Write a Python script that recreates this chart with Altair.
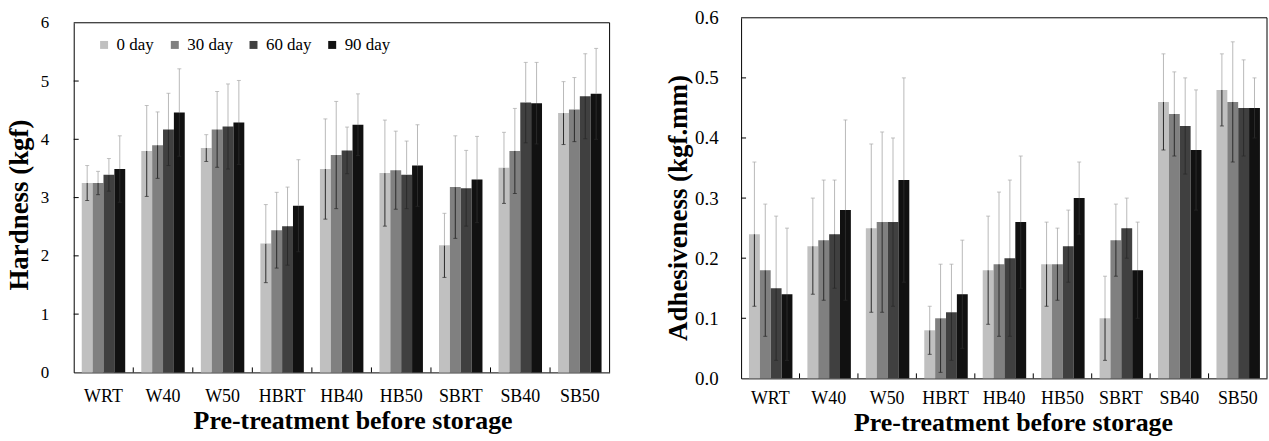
import altair as alt
import pandas as pd

categories = ["WRT", "W40", "W50", "HBRT", "HB40", "HB50", "SBRT", "SB40", "SB50"]
days = ["0 day", "30 day", "60 day", "90 day"]
colors = ["#c0c0c0", "#808080", "#404040", "#111111"]

hard_0 = [3.25, 3.80, 3.85, 2.21, 3.49, 3.42, 2.18, 3.51, 4.45]
hard_30 = [3.25, 3.90, 4.17, 2.44, 3.73, 3.47, 3.18, 3.80, 4.51]
hard_60 = [3.39, 4.17, 4.22, 2.51, 3.81, 3.39, 3.16, 4.63, 4.74]
hard_90 = [3.49, 4.46, 4.29, 2.86, 4.25, 3.55, 3.31, 4.62, 4.78]
hard_sd_0 = [0.30, 0.78, 0.23, 0.67, 0.86, 0.91, 0.55, 0.61, 0.54]
hard_sd_30 = [0.20, 0.57, 0.65, 0.65, 0.92, 0.67, 0.88, 0.73, 0.55]
hard_sd_60 = [0.28, 0.62, 0.73, 0.67, 0.40, 0.58, 0.65, 0.69, 0.73]
hard_sd_90 = [0.57, 0.75, 0.72, 0.79, 0.53, 0.70, 0.74, 0.70, 0.78]

adh_0 = [0.24, 0.22, 0.25, 0.08, 0.18, 0.19, 0.10, 0.46, 0.48]
adh_30 = [0.18, 0.23, 0.26, 0.10, 0.19, 0.19, 0.23, 0.44, 0.46]
adh_60 = [0.15, 0.24, 0.26, 0.11, 0.20, 0.22, 0.25, 0.42, 0.45]
adh_90 = [0.14, 0.28, 0.33, 0.14, 0.26, 0.30, 0.18, 0.38, 0.45]
adh_sd_0 = [0.12, 0.08, 0.14, 0.04, 0.09, 0.07, 0.07, 0.08, 0.06]
adh_sd_30 = [0.11, 0.10, 0.15, 0.09, 0.12, 0.06, 0.06, 0.07, 0.10]
adh_sd_60 = [0.12, 0.09, 0.14, 0.08, 0.13, 0.06, 0.05, 0.08, 0.08]
adh_sd_90 = [0.11, 0.15, 0.17, 0.09, 0.11, 0.06, 0.08, 0.10, 0.05]

hard_ticks = [0, 1, 2, 3, 4, 5, 6]
adh_ticks = [0.0, 0.1, 0.2, 0.3, 0.4, 0.5, 0.6]

FONT = "Liberation Serif"
P_IN = 0.27
P_OUT = 0.135


def panel(vals, sds, ticks, fmt, ytitle, w, h, top_gap, ylab_size, leg_x, leg_y,
          ylab_pad, ytitle_x, ytitle_y, xlab_pad, xtitle_x, xtitle_y):
    rows = []
    for d, v, s in zip(days, vals, sds):
        for c, vi, si in zip(categories, v, s):
            rows.append(dict(cat=c, day=d, val=vi, lo=vi - si, hi=vi + si))
    df = pd.DataFrame(rows)

    xaxis = alt.Axis(title="Pre-treatment before storage", labelAngle=0, ticks=False,
                     labelFontSize=18, titleFontSize=26, titleFontWeight="bold",
                     labelPadding=xlab_pad, titleX=xtitle_x, titleY=xtitle_y,
                     titleBaseline="alphabetic", domainColor="black")
    yaxis = alt.Axis(title=ytitle, values=ticks, format=fmt, ticks=False, grid=False,
                     labelFontSize=ylab_size, titleFontSize=27, titleFontWeight="bold",
                     labelPadding=ylab_pad, titleX=ytitle_x, titleY=ytitle_y,
                     titleBaseline="alphabetic", titleAngle=270, domainColor="black")
    xs = alt.Scale(paddingInner=P_IN, paddingOuter=P_OUT)
    yscale = alt.Scale(domain=[ticks[0], ticks[-1]], nice=False, range=[h, top_gap])
    x = alt.X("cat:N", sort=categories, scale=xs, axis=xaxis)
    xo = alt.XOffset("day:N", sort=days, scale=alt.Scale(paddingInner=0, paddingOuter=0))

    base = alt.Chart(df)
    bars = base.mark_bar().encode(
        x=x, xOffset=xo,
        y=alt.Y("val:Q", scale=yscale, axis=yaxis),
        color=alt.Color("day:N", sort=days,
                        scale=alt.Scale(domain=days, range=colors),
                        legend=alt.Legend(orient="none", legendX=leg_x, legendY=leg_y,
                                          direction="horizontal", title=None,
                                          symbolType="square", symbolSize=64,
                                          symbolStrokeWidth=0, labelFont=FONT,
                                          labelFontSize=17, labelColor="black",
                                          labelOffset=4, columnPadding=12)),
    )
    up = base.mark_rule(color="#b8b8b8", strokeWidth=1).encode(
        x=x, xOffset=xo, y=alt.Y("val:Q", scale=yscale, axis=yaxis), y2="hi:Q")
    down = base.mark_rule(color="#2a2a2a", strokeWidth=1).encode(
        x=x, xOffset=xo, y=alt.Y("lo:Q", scale=yscale, axis=yaxis), y2="val:Q")
    cap_hi = base.mark_tick(color="#a8a8a8", size=4, thickness=1).encode(
        x=x, xOffset=xo, y=alt.Y("hi:Q", scale=yscale, axis=yaxis))
    cap_lo = base.mark_tick(color="#2a2a2a", size=4, thickness=1).encode(
        x=x, xOffset=xo, y=alt.Y("lo:Q", scale=yscale, axis=yaxis))
    yt = alt.Chart(pd.DataFrame({"t": ticks[1:-1]})).mark_rule(color="black").encode(
        y=alt.Y("t:Q", scale=yscale, axis=yaxis), x=alt.value(0), x2=alt.value(5))

    # plot frame (top and right edges) drawn on the value scale
    frame_df = pd.DataFrame({"a": [ticks[0]], "b": [ticks[-1]]})
    top_edge = alt.Chart(frame_df).mark_rule(color="black").encode(
        y=alt.Y("b:Q", scale=yscale, axis=yaxis), x=alt.value(0), x2=alt.value(w))
    right_edge = alt.Chart(frame_df).mark_rule(color="black").encode(
        y=alt.Y("a:Q", scale=yscale, axis=yaxis), y2="b:Q", x=alt.value(w))

    main = alt.layer(bars, down, up, cap_hi, cap_lo, yt, top_edge, right_edge)

    xt = alt.Chart(pd.DataFrame({"cat": categories[1:]})).mark_rule(color="black").encode(
        x=alt.X("cat:N", scale=alt.Scale(domain=categories, paddingInner=0, paddingOuter=0),
                axis=None, bandPosition=0),
        y=alt.value(h), y2=alt.value(h - 5))

    return alt.layer(main, xt).resolve_scale(x="independent").properties(width=w, height=h)


left = panel([hard_0, hard_30, hard_60, hard_90],
             [hard_sd_0, hard_sd_30, hard_sd_60, hard_sd_90],
             hard_ticks, "d", "Hardness (kgf)", 538, 356, 5, 17, 22, 18.5,
             25, -46, 187.5, 15, 280, 56.5)
right = panel([adh_0, adh_30, adh_60, adh_90],
              [adh_sd_0, adh_sd_30, adh_sd_60, adh_sd_90],
              adh_ticks, ".1f", "Adhesiveness (kgf.mm)", 528, 362, 0, 19, 22, 19.5,
              23, -55, 190.5, 11, 273, 52.5)

chart = alt.hconcat(left, right, spacing=53).properties(
    padding={"left": 6, "right": 1, "top": 8, "bottom": 0}
).configure_view(stroke="transparent", strokeWidth=0).configure_axis(
    labelFont=FONT, titleFont=FONT, labelColor="black", titleColor="black"
)

chart.save("out.html", embed_options={"renderer": "svg", "actions": False})
